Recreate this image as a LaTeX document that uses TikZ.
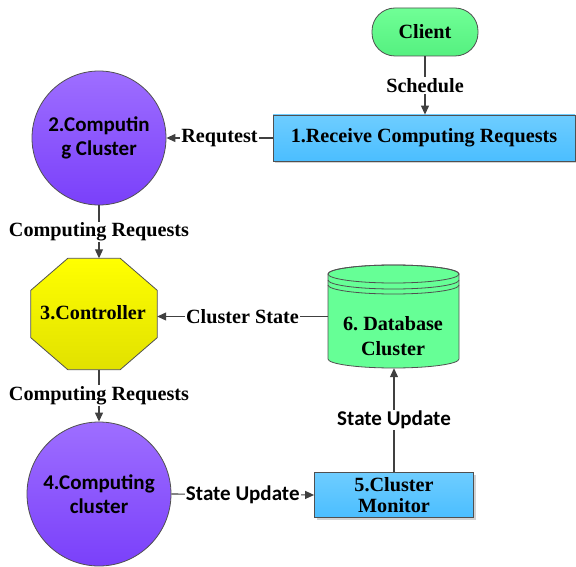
\documentclass[tikz,border=0pt]{standalone}
\usepackage{fontspec}
\setmainfont{Liberation Serif}
\newfontfamily\calib{Carlito}
\usetikzlibrary{arrows.meta,shadows}
\definecolor{linec}{HTML}{404040}
\definecolor{edgec}{HTML}{505050}
\begin{document}
\begin{tikzpicture}[x=1pt,y=-1pt,
  txt/.style={font=\fontsize{20.2}{23}\selectfont\bfseries, align=center},
  stxt/.style={font=\fontsize{21}{23}\selectfont\calib\bfseries, align=center},
  conn/.style={draw=linec, line width=1.1pt},
  arr/.style={conn, -{Triangle[length=9pt,width=8pt]}},
  lab/.style={txt, fill=white, inner sep=1pt},
  slab/.style={stxt, fill=white, inner sep=1pt},
  boxshape/.style={draw=edgec, line width=0.8pt, top color={rgb,255:red,110;green,205;blue,255}, bottom color={rgb,255:red,75;green,190;blue,255}, drop shadow={shadow xshift=2pt, shadow yshift=-2pt, opacity=0.35}},
  purple/.style={circle, draw=edgec, line width=0.8pt, top color={rgb,255:red,158;green,110;blue,255}, bottom color={rgb,255:red,122;green,64;blue,250}},
]
\useasboundingbox (0,0) rectangle (576,567);

% Client
\node[txt, draw=edgec, line width=0.8pt, rounded corners=23pt, minimum width=106pt, minimum height=48pt,
  top color={rgb,255:red,112;green,255;blue,150}, bottom color={rgb,255:red,85;green,240;blue,128}] (client) at (425,32) {Client};

% 1. Receive box
\node[txt, boxshape, minimum width=302pt, minimum height=46pt] (recv) at (424,138) {1.Receive Computing Requests};

% 2. Computing cluster
\node[stxt, purple, minimum size=134pt, inner sep=0pt] (c2) at (99,138) {2.Computin\\[1pt]g Cluster};

% 3. Controller (octagon)
\node[minimum width=126pt, minimum height=111pt, inner sep=0pt] (ctrl) at (94,314) {};
\path[draw=edgec, line width=0.8pt, top color={rgb,255:red,255;green,255;blue,0}, bottom color={rgb,255:red,225;green,225;blue,0}]
  ([xshift=37pt]ctrl.north west) -- ([xshift=-37pt]ctrl.north east) -- ([yshift=-32pt]ctrl.north east)
  -- ([yshift=32pt]ctrl.south east) -- ([xshift=-37pt]ctrl.south east) -- ([xshift=37pt]ctrl.south west)
  -- ([yshift=32pt]ctrl.south west) -- ([yshift=-32pt]ctrl.north west) -- cycle;
\node[txt] (ctrltext) at (93,313) {3.Controller};

% 6. Database cylinder
\node[minimum width=131pt, minimum height=103pt, inner sep=0pt] (db) at (393.5,316.5) {};
\path[draw=edgec, line width=0.8pt, fill={rgb,255:red,102;green,255;blue,150}]
  (328,274) -- (328,359) arc[start angle=180, end angle=0, x radius=65.5, y radius=9] -- (459,274)
  arc[start angle=0, end angle=-180, x radius=65.5, y radius=9] -- cycle;
\draw[edgec, line width=0.8pt] (393.5,274) ellipse[x radius=65.5, y radius=9];
\draw[edgec, line width=0.8pt] (328,280) arc[start angle=180, end angle=0, x radius=65.5, y radius=9];
\draw[edgec, line width=0.8pt] (328,285) arc[start angle=180, end angle=0, x radius=65.5, y radius=9];
\node[txt] (dbtext) at (393,336) {6.\ Database\\[2pt]Cluster};

% 4. Computing cluster
\node[stxt, purple, minimum size=144pt, inner sep=0pt] (c4) at (99,494) {4.Computing\\[1pt]cluster};

% 5. Cluster Monitor
\node[txt, boxshape, minimum width=159pt, minimum height=45pt, inner sep=1pt, font=\fontsize{20.2}{21}\selectfont\bfseries] (mon) at (394,495) {5.Cluster\\Monitor};

% connectors
\draw[arr] (client.south) -- node[lab] (l1) {Schedule} (recv.north -| client.south);
\draw[arr] (recv.west) -- node[lab] (l2) {Requtest} (c2.east);
\draw[arr] (c2.south) -- node[lab] (l3) {Computing Requests} (c2.south |- ctrl.north);
\draw[arr] (db.west) -- node[lab] (l4) {Cluster State} (db.west -| ctrl.east);
\draw[arr] (ctrl.south -| c2.south) -- node[lab] (l5) {Computing Requests} (c4.north);
\draw[arr] (c4.east) -- node[slab] (l6) {State Update} (mon.west);
\draw[arr] (mon.north) -- node[slab] (l7) {State Update} (mon.north |- db.south);
\end{tikzpicture}
\end{document}
